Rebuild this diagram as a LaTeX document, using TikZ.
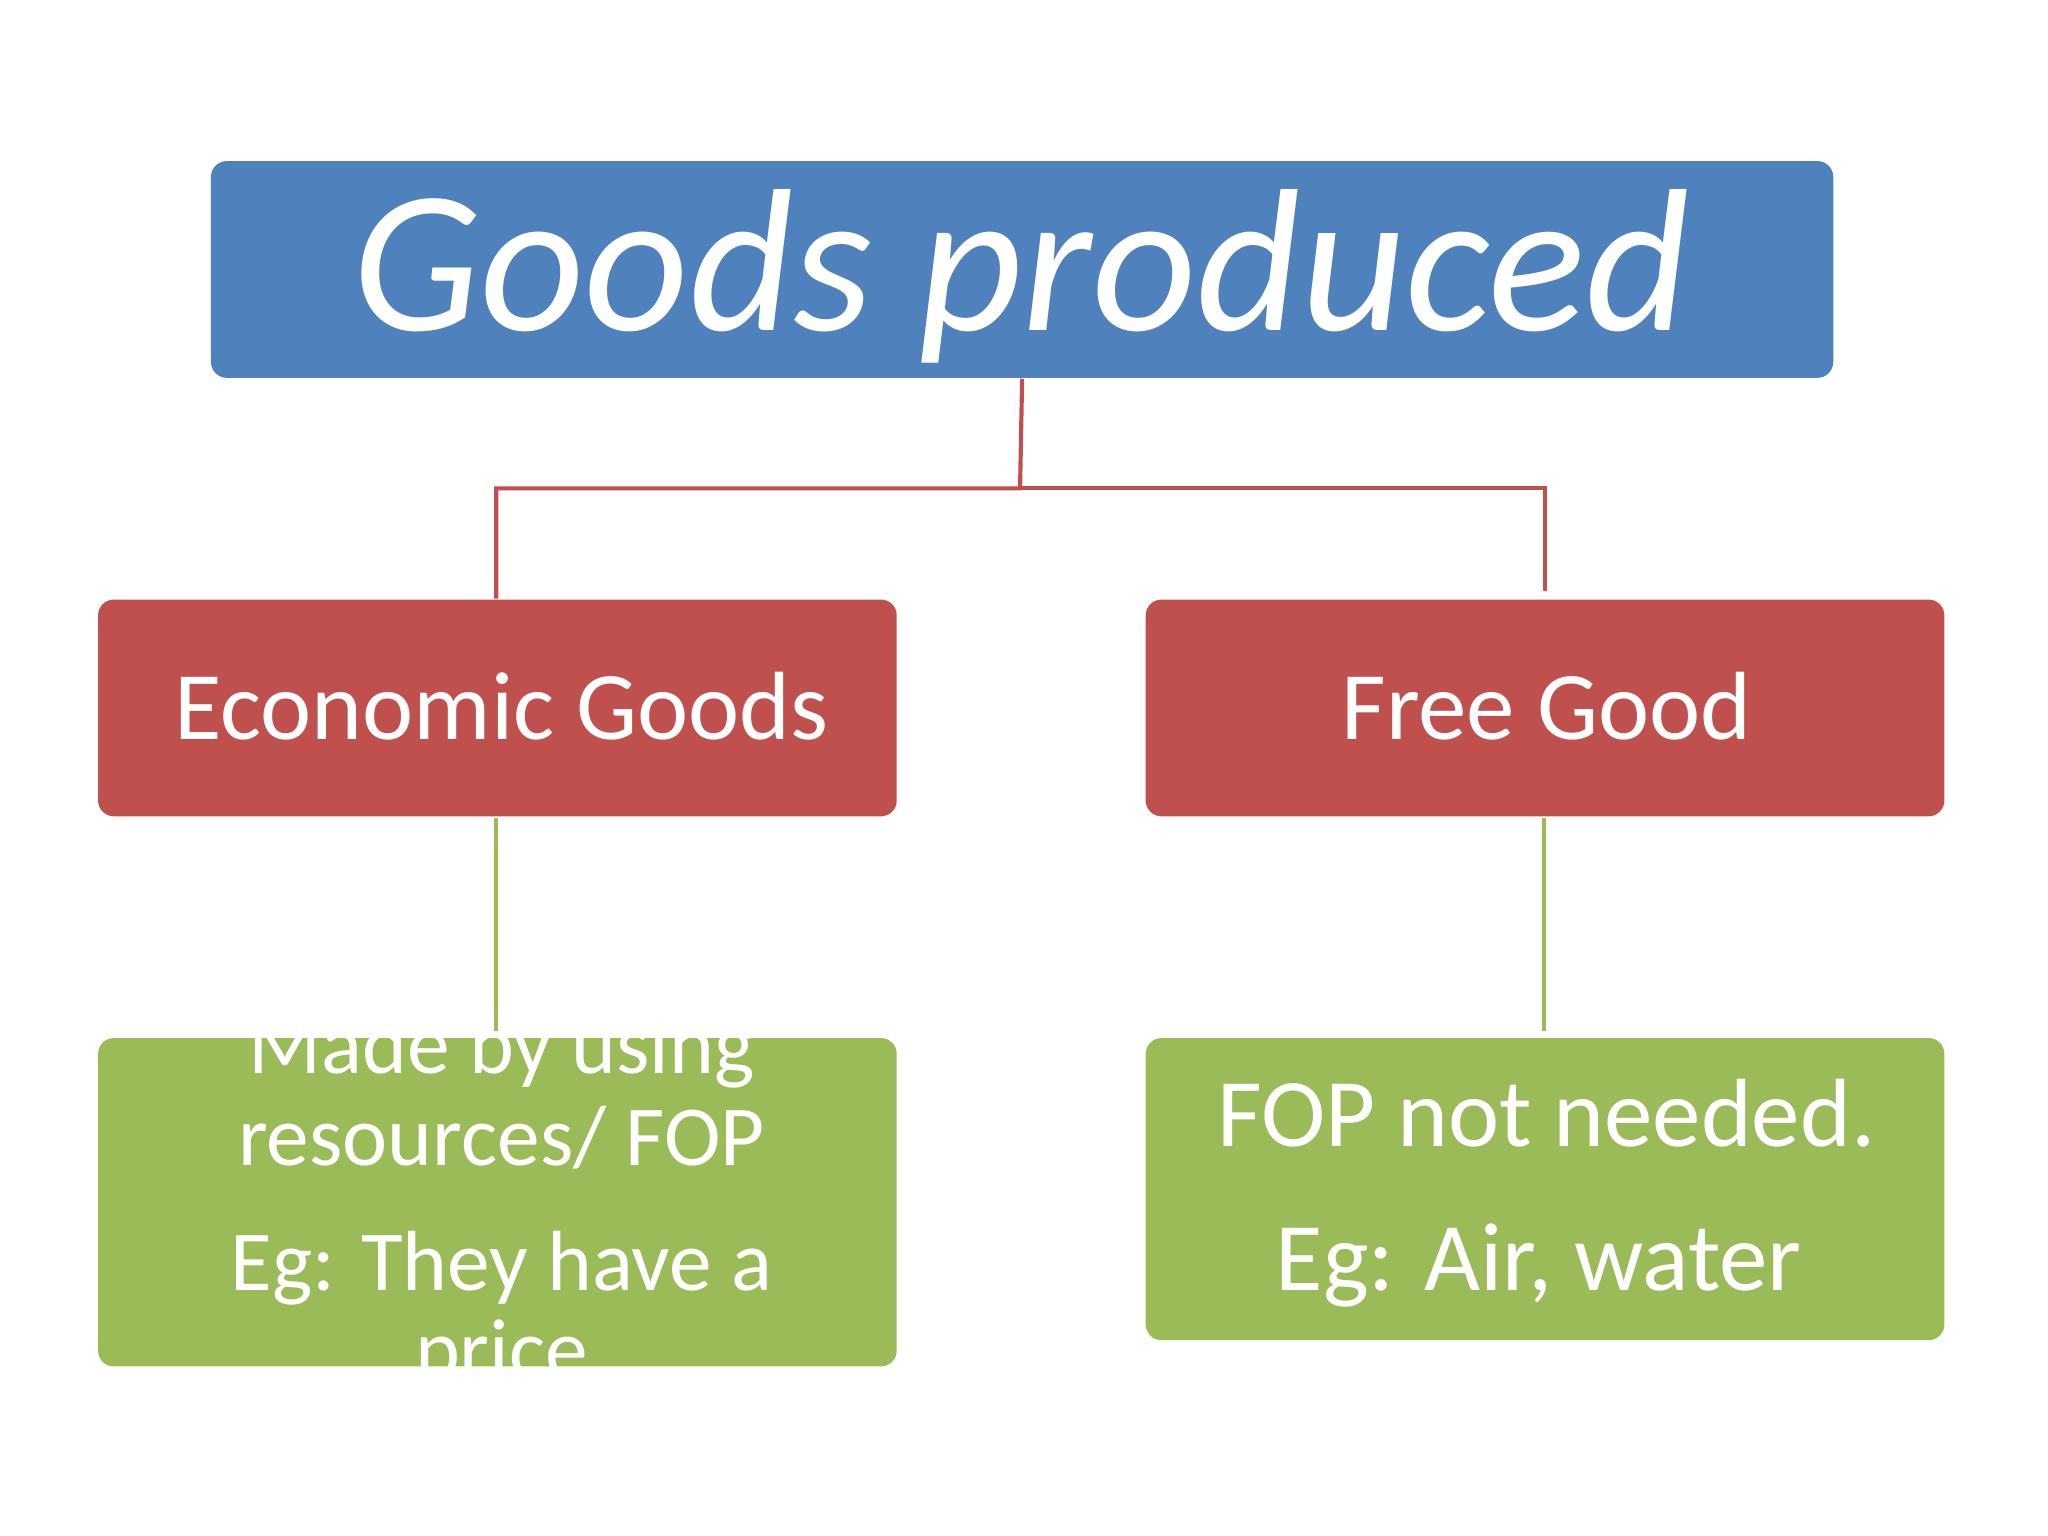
\documentclass[tikz,border=0pt]{standalone}
\usepackage{fontspec}
\setmainfont{Carlito}
\definecolor{cblue}{HTML}{4F81BD}
\definecolor{cred}{HTML}{C0504D}
\definecolor{cgreen}{HTML}{9BBB59}
\begin{document}
\begin{tikzpicture}[x=0.01cm,y=-0.01cm,
  box/.style={rounded corners=0.12cm,inner sep=0,anchor=north west},
  txt/.style={text=white,anchor=base,inner sep=0},
  con/.style={line width=0.9pt}]
\useasboundingbox (0,0) rectangle (1560,1170);
\node[box,fill=cblue,minimum width=12.35cm,minimum height=1.65cm] (top) at (160,122) {};
\node[txt,font=\fontsize{44}{50}\selectfont\itshape] (toptxt) at (778,252) {Goods produced};
\node[box,fill=cred,minimum width=6.08cm,minimum height=1.65cm] (eco) at (74,456) {};
\node[box,fill=cred,minimum width=6.08cm,minimum height=1.65cm] (free) at (872,456) {};
\node[txt,font=\fontsize{21}{25}\selectfont] (ecotxt) at (382,563) {Economic Goods};
\node[txt,font=\fontsize{21}{25}\selectfont] (freetxt) at (1178,563) {Free Good};
\node[box,fill=cgreen,minimum width=6.08cm,minimum height=2.5cm] (g1) at (74,790) {};
\node[box,fill=cgreen,minimum width=6.08cm,minimum height=2.3cm] (g2) at (872,790) {};
\begin{scope}[font=\fontsize{18.5}{22}\selectfont]
\node[txt] (l1) at (382,818) {Made by using};
\node[txt] (l2) at (382,888) {resources/ FOP};
\node[txt] (l3) at (382,983) {Eg: They have a};
\node[txt] (l4) at (382,1050) {price};
\end{scope}
\begin{scope}[font=\fontsize{21}{25}\selectfont]
\node[txt] (r1) at (1178,873) {FOP not needed.};
\node[txt] (r2) at (1172,983) {Eg: Air, water};
\end{scope}
\coordinate (j) at (777,372);
\draw[con,cred] (top.south) -- (j) -| (eco.north -| 378,0);
\draw[con,cred] (j) -| (1177,450);
\draw[con,cgreen] (378,623) -- (378,785);
\draw[con,cgreen] (1176,623) -- (1176,785);
\end{tikzpicture}
\end{document}
